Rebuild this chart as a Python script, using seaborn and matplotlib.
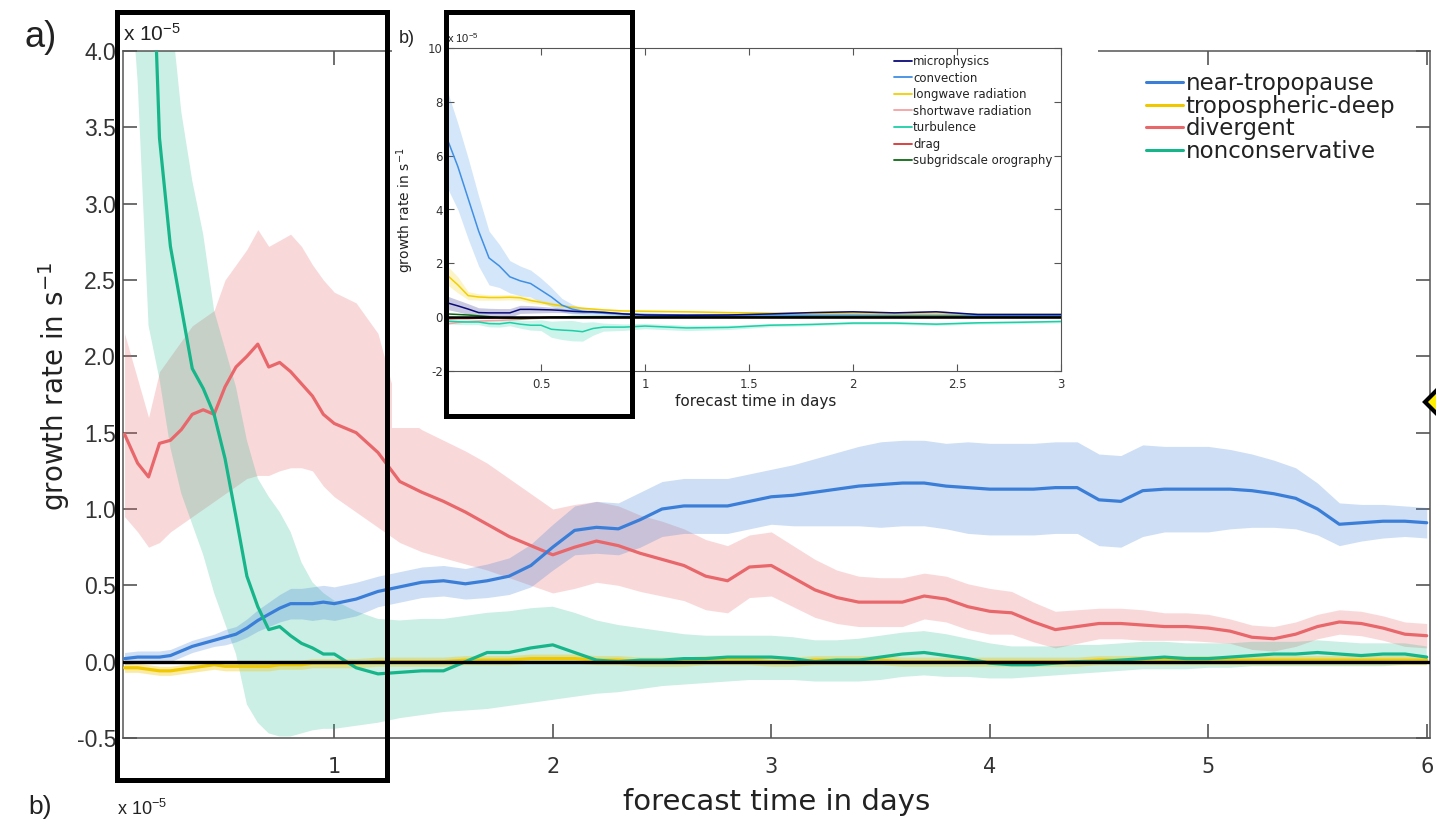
import matplotlib
matplotlib.use("Agg")
import matplotlib.pyplot as plt
from matplotlib.patches import Rectangle, Polygon
from matplotlib.lines import Line2D
import seaborn as sns

# ---------------- main panel data (values in 1e-5 s^-1) ----------------
T_MAIN = [0.04, 0.10, 0.15, 0.20, 0.25, 0.30, 0.35, 0.40, 0.45, 0.50,
          0.55, 0.60, 0.65, 0.70, 0.75, 0.80, 0.85, 0.90, 0.95, 1.00,
          1.1, 1.2, 1.3, 1.4, 1.5, 1.6, 1.7, 1.8, 1.9, 2.0,
          2.1, 2.2, 2.3, 2.4, 2.5, 2.6, 2.7, 2.8, 2.9, 3.0,
          3.1, 3.2, 3.3, 3.4, 3.5, 3.6, 3.7, 3.8, 3.9, 4.0,
          4.1, 4.2, 4.3, 4.4, 4.5, 4.6, 4.7, 4.8, 4.9, 5.0,
          5.1, 5.2, 5.3, 5.4, 5.5, 5.6, 5.7, 5.8, 5.9, 6.0]

NEAR_TROP = [0.02, 0.03, 0.03, 0.03, 0.04, 0.07, 0.10, 0.12, 0.14, 0.16,
             0.18, 0.22, 0.27, 0.31, 0.35, 0.38, 0.38, 0.38, 0.39, 0.38,
             0.41, 0.46, 0.49, 0.52, 0.53, 0.51, 0.53, 0.56, 0.63, 0.75,
             0.86, 0.88, 0.87, 0.93, 1.00, 1.02, 1.02, 1.02, 1.05, 1.08,
             1.09, 1.11, 1.13, 1.15, 1.16, 1.17, 1.17, 1.15, 1.14, 1.13,
             1.13, 1.13, 1.14, 1.14, 1.06, 1.05, 1.12, 1.13, 1.13, 1.13,
             1.13, 1.12, 1.10, 1.07, 1.00, 0.90, 0.91, 0.92, 0.92, 0.91]
NEAR_TROP_HW = [0.04, 0.04, 0.04, 0.04, 0.04, 0.04, 0.04, 0.04, 0.04, 0.05,
                0.05, 0.06, 0.07, 0.08, 0.09, 0.10, 0.10, 0.11, 0.11, 0.11,
                0.11, 0.10, 0.10, 0.10, 0.10, 0.10, 0.11, 0.12, 0.14, 0.15,
                0.16, 0.17, 0.17, 0.18, 0.18, 0.18, 0.18, 0.18, 0.18, 0.18,
                0.20, 0.22, 0.24, 0.26, 0.28, 0.28, 0.28, 0.28, 0.30, 0.30,
                0.30, 0.30, 0.30, 0.30, 0.30, 0.30, 0.30, 0.28, 0.28, 0.28,
                0.26, 0.24, 0.22, 0.20, 0.17, 0.14, 0.12, 0.11, 0.10, 0.10]

TROP_DEEP = [-0.04, -0.04, -0.05, -0.06, -0.06, -0.05, -0.04, -0.03, -0.02, -0.03,
             -0.03, -0.03, -0.03, -0.03, -0.02, -0.02, -0.02, -0.01, -0.01, -0.01,
             -0.01, 0.00, 0.00, 0.00, 0.00, 0.01, 0.01, 0.01, 0.02, 0.02,
             0.02, 0.01, 0.01, 0.00, 0.00, 0.00, 0.01, 0.01, 0.01, 0.00,
             0.00, 0.01, 0.01, 0.01, 0.01, 0.00, 0.00, 0.00, 0.00, 0.00,
             0.00, 0.00, 0.00, 0.00, 0.01, 0.01, 0.01, 0.01, 0.01, 0.01,
             0.01, 0.01, 0.01, 0.01, 0.01, 0.01, 0.01, 0.01, 0.01, 0.01]
TROP_DEEP_HW = 0.03

DIVERGENT = [1.49, 1.30, 1.21, 1.43, 1.45, 1.52, 1.62, 1.65, 1.62, 1.80,
             1.93, 2.00, 2.08, 1.93, 1.96, 1.90, 1.82, 1.74, 1.62, 1.56,
             1.50, 1.37, 1.18, 1.11, 1.05, 0.98, 0.90, 0.82, 0.76, 0.70,
             0.75, 0.79, 0.76, 0.71, 0.67, 0.63, 0.56, 0.53, 0.62, 0.63,
             0.55, 0.47, 0.42, 0.39, 0.39, 0.39, 0.43, 0.41, 0.36, 0.33,
             0.32, 0.26, 0.21, 0.23, 0.25, 0.25, 0.24, 0.23, 0.23, 0.22,
             0.20, 0.16, 0.15, 0.18, 0.23, 0.26, 0.25, 0.22, 0.18, 0.17]
DIVERGENT_HI = [2.15, 1.85, 1.60, 1.90, 2.00, 2.10, 2.20, 2.25, 2.30, 2.50,
                2.60, 2.70, 2.83, 2.72, 2.76, 2.80, 2.72, 2.60, 2.50, 2.42,
                2.35, 2.15, 1.62, 1.52, 1.45, 1.38, 1.30, 1.20, 1.10, 1.00,
                1.03, 1.05, 1.02, 0.96, 0.92, 0.87, 0.80, 0.76, 0.83, 0.85,
                0.76, 0.67, 0.60, 0.56, 0.55, 0.55, 0.58, 0.56, 0.51, 0.48,
                0.46, 0.39, 0.33, 0.34, 0.35, 0.35, 0.34, 0.32, 0.32, 0.31,
                0.28, 0.24, 0.23, 0.26, 0.31, 0.34, 0.33, 0.30, 0.26, 0.25]
DIVERGENT_LO = [0.95, 0.85, 0.75, 0.78, 0.85, 0.90, 0.95, 1.00, 1.05, 1.10,
                1.15, 1.20, 1.22, 1.22, 1.25, 1.27, 1.27, 1.25, 1.15, 1.08,
                0.98, 0.88, 0.78, 0.72, 0.68, 0.64, 0.60, 0.55, 0.50, 0.45,
                0.48, 0.52, 0.50, 0.46, 0.43, 0.40, 0.34, 0.32, 0.42, 0.43,
                0.36, 0.29, 0.25, 0.23, 0.23, 0.23, 0.28, 0.26, 0.21, 0.18,
                0.18, 0.13, 0.09, 0.12, 0.15, 0.15, 0.14, 0.14, 0.14, 0.13,
                0.12, 0.08, 0.07, 0.10, 0.15, 0.18, 0.17, 0.14, 0.10, 0.09]

NONCONS = [9.00, 7.00, 5.50, 3.43, 2.72, 2.32, 1.92, 1.79, 1.62, 1.33,
           0.95, 0.56, 0.36, 0.21, 0.23, 0.17, 0.12, 0.09, 0.05, 0.05,
           -0.04, -0.08, -0.07, -0.06, -0.06, 0.00, 0.06, 0.06, 0.09, 0.11,
           0.06, 0.01, 0.00, 0.01, 0.01, 0.02, 0.02, 0.03, 0.03, 0.03,
           0.02, 0.00, 0.01, 0.01, 0.03, 0.05, 0.06, 0.04, 0.02, -0.01,
           -0.02, -0.02, -0.01, 0.00, 0.00, 0.01, 0.02, 0.03, 0.02, 0.02,
           0.03, 0.04, 0.05, 0.05, 0.06, 0.05, 0.04, 0.05, 0.05, 0.03]
NONCONS_HI = [12.0, 10.0, 8.00, 6.00, 4.30, 3.60, 3.15, 2.80, 2.30, 2.05,
              1.80, 1.45, 1.20, 1.08, 0.98, 0.85, 0.65, 0.52, 0.45, 0.40,
              0.33, 0.28, 0.27, 0.28, 0.28, 0.30, 0.32, 0.33, 0.35, 0.36,
              0.32, 0.27, 0.24, 0.22, 0.20, 0.18, 0.17, 0.17, 0.17, 0.17,
              0.16, 0.14, 0.14, 0.15, 0.17, 0.19, 0.20, 0.18, 0.15, 0.12,
              0.10, 0.10, 0.10, 0.11, 0.11, 0.12, 0.13, 0.13, 0.12, 0.12,
              0.12, 0.13, 0.13, 0.13, 0.14, 0.13, 0.12, 0.12, 0.12, 0.10]
NONCONS_LO = [5.00, 3.80, 2.20, 1.85, 1.40, 1.10, 0.90, 0.70, 0.45, 0.25,
              0.05, -0.28, -0.40, -0.47, -0.49, -0.49, -0.47, -0.45, -0.44, -0.44,
              -0.42, -0.40, -0.37, -0.35, -0.33, -0.32, -0.31, -0.29, -0.27, -0.25,
              -0.23, -0.21, -0.20, -0.18, -0.16, -0.15, -0.14, -0.13, -0.12, -0.12,
              -0.12, -0.13, -0.13, -0.13, -0.12, -0.10, -0.09, -0.10, -0.10, -0.11,
              -0.11, -0.10, -0.09, -0.08, -0.07, -0.06, -0.05, -0.05, -0.05, -0.04,
              -0.04, -0.03, -0.03, -0.03, -0.03, -0.03, -0.03, -0.03, -0.02, -0.02]

MAIN_LABELS = ["near-tropopause", "tropospheric-deep", "divergent", "nonconservative"]
X_TICKS_MAIN = [1, 2, 3, 4, 5, 6]
X_TICKLABELS_MAIN = ["1", "2", "3", "4", "5", "6"]
Y_TICKS_MAIN = [-0.5, 0.0, 0.5, 1.0, 1.5, 2.0, 2.5, 3.0, 3.5, 4.0]
Y_TICKLABELS_MAIN = ["-0.5", "0.0", "0.5", "1.0", "1.5", "2.0", "2.5", "3.0", "3.5", "4.0"]

# ---------------- inset panel data ----------------
T_IN = [0.05, 0.10, 0.15, 0.20, 0.25, 0.30, 0.35, 0.40, 0.45, 0.50,
        0.55, 0.60, 0.65, 0.70, 0.75, 0.80, 0.90, 1.00, 1.20, 1.40,
        1.60, 1.80, 2.00, 2.20, 2.40, 2.60, 2.80, 3.00]
MICRO = [0.53, 0.42, 0.30, 0.17, 0.16, 0.16, 0.16, 0.29, 0.29, 0.28,
         0.27, 0.25, 0.22, 0.20, 0.20, 0.18, 0.12, 0.08, 0.07, 0.08,
         0.12, 0.17, 0.20, 0.16, 0.20, 0.10, 0.10, 0.10]
MICRO_HW = [0.25, 0.22, 0.20, 0.18, 0.17, 0.16, 0.16, 0.15, 0.14, 0.12,
            0.10, 0.08, 0.07, 0.06, 0.05, 0.05, 0.05, 0.04, 0.04, 0.04,
            0.04, 0.04, 0.04, 0.04, 0.04, 0.04, 0.04, 0.04]
CONV = [6.6, 5.6, 4.4, 3.2, 2.2, 1.9, 1.5, 1.35, 1.25, 1.0,
        0.75, 0.45, 0.30, 0.22, 0.18, 0.15, 0.12, 0.10, 0.08, 0.08,
        0.08, 0.07, 0.07, 0.06, 0.06, 0.06, 0.06, 0.06]
CONV_HW = [1.8, 1.6, 1.5, 1.3, 1.0, 0.8, 0.6, 0.55, 0.5, 0.45,
           0.35, 0.25, 0.18, 0.12, 0.10, 0.08, 0.06, 0.05, 0.05, 0.05,
           0.05, 0.05, 0.05, 0.05, 0.05, 0.05, 0.05, 0.05]
LW_RAD = [1.55, 1.20, 0.80, 0.75, 0.73, 0.73, 0.74, 0.72, 0.62, 0.55,
          0.48, 0.42, 0.37, 0.33, 0.30, 0.27, 0.23, 0.22, 0.20, 0.17,
          0.15, 0.13, 0.12, 0.11, 0.11, 0.10, 0.10, 0.10]
LW_RAD_HW = [0.35, 0.30, 0.15, 0.12, 0.10, 0.10, 0.10, 0.10, 0.10, 0.08,
             0.07, 0.06, 0.05, 0.05, 0.05, 0.05, 0.04, 0.04, 0.04, 0.04,
             0.04, 0.04, 0.04, 0.04, 0.04, 0.04, 0.04, 0.04]
SW_RAD = [-0.25, -0.20, -0.17, -0.15, -0.13, -0.12, -0.10, -0.08, -0.06, -0.04,
          -0.03, -0.03, -0.03, -0.03, -0.03, -0.03, -0.03, -0.03, -0.03, -0.03,
          -0.03, -0.03, -0.03, -0.03, -0.03, -0.03, -0.03, -0.03]
TURB = [-0.15, -0.17, -0.18, -0.18, -0.24, -0.25, -0.20, -0.26, -0.30, -0.30,
        -0.45, -0.48, -0.50, -0.54, -0.42, -0.37, -0.37, -0.33, -0.40, -0.38,
        -0.30, -0.27, -0.22, -0.22, -0.26, -0.21, -0.19, -0.16]
TURB_HW = [0.10, 0.10, 0.10, 0.10, 0.12, 0.12, 0.12, 0.15, 0.18, 0.20,
           0.30, 0.35, 0.38, 0.35, 0.25, 0.15, 0.12, 0.10, 0.10, 0.08,
           0.06, 0.05, 0.05, 0.05, 0.05, 0.05, 0.05, 0.05]
DRAG = [-0.06, -0.05, -0.05, -0.04, -0.04, -0.03, -0.03, -0.02, -0.02, -0.01,
        0.00, 0.00, 0.00, 0.00, 0.00, 0.00, 0.00, 0.00, 0.00, 0.00,
        0.00, 0.00, 0.00, 0.00, 0.00, 0.00, 0.00, 0.00]
OROG = [0.12, 0.10, 0.08, 0.05, 0.02, -0.02, -0.04, -0.05, -0.04, -0.02,
        0.00, 0.01, 0.02, 0.02, 0.02, 0.02, 0.02, 0.02, 0.02, 0.02,
        0.02, 0.02, 0.02, 0.02, 0.02, 0.02, 0.02, 0.02]
IN_LABELS = ["microphysics", "convection", "longwave radiation", "shortwave radiation",
             "turbulence", "drag", "subgridscale orography"]
X_TICKS_IN = [0.5, 1, 1.5, 2, 2.5, 3]
X_TICKLABELS_IN = ["0.5", "1", "1.5", "2", "2.5", "3"]
Y_TICKS_IN = [-2, 0, 2, 4, 6, 8, 10]
Y_TICKLABELS_IN = ["-2", "0", "2", "4", "6", "8", "10"]

# ---------------- styling ----------------
sns.set_theme(style="white")
plt.rcParams["font.family"] = ["DejaVu Sans"]
plt.rcParams["mathtext.default"] = "regular"

C_BLUE, C_YEL, C_RED, C_GRN = "#3a7ed8", "#f0c800", "#e8676b", "#16b58a"
CI = {"microphysics": "#0b0b7a", "convection": "#3f8fe4", "longwave radiation": "#f2d000",
      "shortwave radiation": "#f4a2a2", "turbulence": "#1ccfa6", "drag": "#d83434",
      "subgridscale orography": "#0c6a12"}

W, H = 1436, 821


def fx(px):
    return px / W


def fy(py):
    return 1 - py / H


fig = plt.figure(figsize=(W / 100, H / 100), dpi=100)
fig.patch.set_facecolor("white")

# ---------------- main axes ----------------
ax = fig.add_axes([fx(123), fy(738), (1430 - 123) / W, (738 - 51) / H])
ax.set_zorder(0)
ax.set_facecolor("white")

nt_lo = [m - h for m, h in zip(NEAR_TROP, NEAR_TROP_HW)]
nt_hi = [m + h for m, h in zip(NEAR_TROP, NEAR_TROP_HW)]
td_lo = [m - TROP_DEEP_HW for m in TROP_DEEP]
td_hi = [m + TROP_DEEP_HW for m in TROP_DEEP]
ax.fill_between(T_MAIN, DIVERGENT_LO, DIVERGENT_HI, color=C_RED, alpha=0.25, lw=0, zorder=1)
ax.fill_between(T_MAIN, NONCONS_LO, NONCONS_HI, color=C_GRN, alpha=0.22, lw=0, zorder=1)
ax.fill_between(T_MAIN, nt_lo, nt_hi, color=C_BLUE, alpha=0.25, lw=0, zorder=1)
ax.fill_between(T_MAIN, td_lo, td_hi, color=C_YEL, alpha=0.35, lw=0, zorder=1)

for vals, col in [(TROP_DEEP, C_YEL), (DIVERGENT, C_RED), (NEAR_TROP, C_BLUE), (NONCONS, C_GRN)]:
    sns.lineplot(x=T_MAIN, y=vals, ax=ax, color=col, lw=2.3, zorder=3, legend=False)

ax.axhline(0, color="black", lw=2.4, zorder=4)
ax.set_xlim(0.033, 6.015)
ax.set_ylim(-0.5, 4.0)
ax.set_xticks(X_TICKS_MAIN)
ax.set_xticklabels(X_TICKLABELS_MAIN, fontsize=15)
ax.set_yticks(Y_TICKS_MAIN)
ax.set_yticklabels(Y_TICKLABELS_MAIN, fontsize=16.5, family=["Liberation Sans"])
ax.tick_params(direction="in", length=10, width=1.2, color="#555555", top=True, right=True,
               labelcolor="#333333", bottom=True, left=True)
ax.tick_params(axis="x", pad=14)
ax.tick_params(axis="y", pad=5)
for s in ax.spines.values():
    s.set_color("#555555")
    s.set_linewidth(1.1)
ax.set_xlabel("forecast time in days", fontsize=21, color="#222222")
ax.xaxis.set_label_coords((777 - 123) / 1307, (738 - 788) / 687)
ax.set_ylabel("growth rate in s$^{-1}$", fontsize=20, color="#222222")
ax.yaxis.set_label_coords((72 - 123) / 1307, (738 - 387) / 687)

handles = [Line2D([], [], color=c, lw=2.2) for c in (C_BLUE, C_YEL, C_RED, C_GRN)]
ax.legend(handles, MAIN_LABELS, loc="upper left", bbox_to_anchor=(fx(1146), fy(72)),
          bbox_transform=fig.transFigure, frameon=False, fontsize=16.5, handlelength=1.6,
          handletextpad=0.12, labelspacing=-0.02, borderpad=0, borderaxespad=0,
          labelcolor="#222222")

# white area behind the inset
fig.add_artist(Rectangle((fx(392), fy(428)), fx(1098) - fx(392), fy(0) - fy(428),
                         transform=fig.transFigure, facecolor="white", edgecolor="none",
                         zorder=1.5))

# ---------------- inset axes ----------------
axi = fig.add_axes([fx(447), fy(371), (1061 - 447) / W, (371 - 48) / H])
axi.set_zorder(2)
axi.set_facecolor("white")

band_sets = [(MICRO, MICRO_HW, "microphysics"), (CONV, CONV_HW, "convection"),
             (LW_RAD, LW_RAD_HW, "longwave radiation"), (TURB, TURB_HW, "turbulence")]
for vals, hw, name in band_sets:
    axi.fill_between(T_IN, [v - h for v, h in zip(vals, hw)], [v + h for v, h in zip(vals, hw)],
                     color=CI[name], alpha=0.22, lw=0, zorder=1)

series_in = [(SW_RAD, "shortwave radiation"), (DRAG, "drag"), (OROG, "subgridscale orography"),
             (TURB, "turbulence"), (LW_RAD, "longwave radiation"), (CONV, "convection"),
             (MICRO, "microphysics")]
for vals, name in series_in:
    sns.lineplot(x=T_IN, y=vals, ax=axi, color=CI[name], lw=1.1, zorder=3, legend=False)
axi.axhline(0, color="black", lw=1.8, zorder=4)

axi.set_xlim(0.048, 3.0)
axi.set_ylim(-2, 10)
axi.set_xticks(X_TICKS_IN)
axi.set_xticklabels(X_TICKLABELS_IN, fontsize=8.5)
axi.set_yticks(Y_TICKS_IN)
axi.set_yticklabels(Y_TICKLABELS_IN, fontsize=8.5)
axi.tick_params(direction="in", length=5, width=0.8, color="#555555", top=True, right=True,
                bottom=True, left=True, labelcolor="#333333")
axi.tick_params(axis="x", pad=5)
axi.tick_params(axis="y", pad=3)
for s in axi.spines.values():
    s.set_color("#555555")
    s.set_linewidth(0.8)
axi.set_xlabel("forecast time in days", fontsize=11, color="#222222")
axi.xaxis.set_label_coords((756 - 447) / 614, (371 - 394) / 323)
axi.set_ylabel("growth rate in s$^{-1}$", fontsize=10, color="#222222")
axi.yaxis.set_label_coords((416 - 447) / 614, (371 - 210) / 323)
ih = [Line2D([], [], color=CI[n], lw=1.3) for n in IN_LABELS]
axi.legend(ih, IN_LABELS, loc="upper left", bbox_to_anchor=(fx(894), fy(55)),
           bbox_transform=fig.transFigure, frameon=False, fontsize=8.5, handlelength=1.5,
           handletextpad=0.12, labelspacing=0.3, borderpad=0, borderaxespad=0,
           labelcolor="#222222")

# ---------------- annotations ----------------
fig.text(fx(25), fy(47), "a)", fontsize=26, family=["Liberation Sans"], color="#222222",
         va="baseline", ha="left", zorder=6)
fig.text(fx(123), fy(41), "x 10$^{-5}$", fontsize=15, family=["Liberation Sans"],
         color="#222222", va="baseline", ha="left", zorder=6)
fig.text(fx(399), fy(43), "b)", fontsize=13, family=["Liberation Sans"], color="#222222",
         va="baseline", ha="left", zorder=6)
fig.text(fx(447), fy(43), "x 10$^{-5}$", fontsize=8, family=["Liberation Sans"],
         color="#222222", va="baseline", ha="left", zorder=6)
# labels of the next panel, at the lower edge
fig.text(fx(28), fy(814), "b)", fontsize=19, family=["Liberation Sans"], color="#222222",
         va="baseline", ha="left", zorder=6)
fig.text(fx(117), fy(815), "x 10$^{-5}$", fontsize=13, family=["Liberation Sans"],
         color="#222222", va="baseline", ha="left", zorder=6)

fig.add_artist(Rectangle((fx(117), fy(780)), fx(387) - fx(117), fy(12) - fy(780),
                         transform=fig.transFigure, fill=False, edgecolor="black",
                         lw=3.6, zorder=10))
fig.add_artist(Rectangle((fx(446), fy(416)), fx(632) - fx(446), fy(12) - fy(416),
                         transform=fig.transFigure, fill=False, edgecolor="black",
                         lw=3.6, zorder=10))
fig.add_artist(Polygon([(fx(1425), fy(402)), (fx(1438), fy(389)), (fx(1451), fy(402)),
                        (fx(1438), fy(415))], closed=True, transform=fig.transFigure,
                       facecolor="#ffee00", edgecolor="black", lw=3, zorder=10))

fig.savefig("out.png", dpi=100, facecolor="white")
